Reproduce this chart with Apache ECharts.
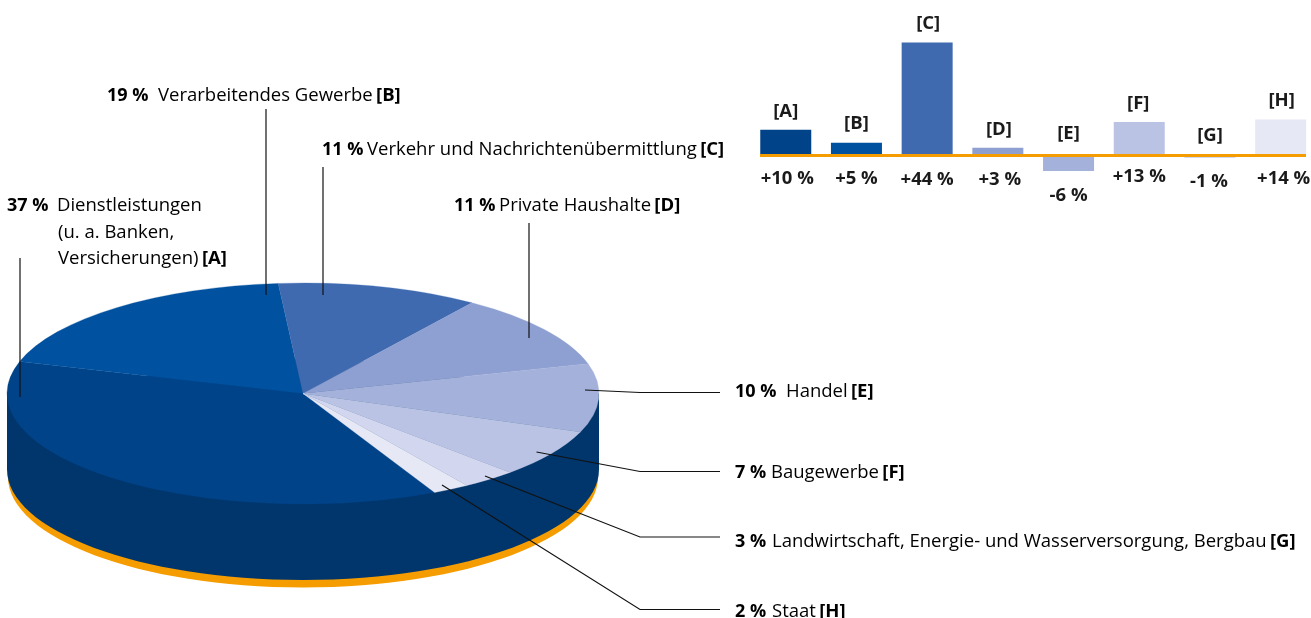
<!DOCTYPE html>
<html><head><meta charset="utf-8">
<style>html,body{margin:0;padding:0;background:#fff}#c{width:1311px;height:618px}</style>
<script src="https://cdn.jsdelivr.net/npm/echarts@6/dist/echarts.min.js"></script>
</head><body><div id="c"></div>
<script>
// ---- data ----
const sliceKeys = ['A','B','C','D','E','F','G','H'];
const shares = [37,19,11,11,10,7,3,2];
const sliceColors = ['#004389','#00519f','#3f6ab0','#8e9fd1','#a4b1da','#bac3e4','#d3d6ef','#e6e8f5'];
const sliceNames = [
  ['Dienstleistungen','(u. a. Banken,','Versicherungen)'],
  ['Verarbeitendes Gewerbe'],
  ['Verkehr und Nachrichtenübermittlung'],
  ['Private Haushalte'],
  ['Handel'],
  ['Baugewerbe'],
  ['Landwirtschaft, Energie- und Wasserversorgung, Bergbau'],
  ['Staat']
];
const changes = [10,5,44,3,-6,13,-1,14];
const changeLabels = ['+10 %','+5 %','+44 %','+3 %','-6 %','+13 %','-1 %','+14 %'];

// ---- layout / style ----
const FONT = 'Open Sans', FS = 18.5, FSB = 18.5, FSH = 18;
const CX=303, CY=393.5, RX=296, RY=110.5, DEPTH=76, ORANGE=7.5, START_DEG=63.6;
const WALL='#00366b', ORANGE_C='#f59c00', TEXT='#1a1a1a';
const leaders = [
  [[20,258],[20,397]],
  [[266,109],[266,295]],
  [[323,167],[323,295]],
  [[529,223],[529,338]],
  [[585,390],[640,392.5],[720,392.5]],
  [[536.5,452],[640,471.5],[720,471.5]],
  [[485,476],[640,537],[720,537]],
  [[442,485],[640,609.5],[720,609.5]]
];
const calloutPos = [[7,206,50],[107,96,51],[322,150,45],[454,206,45],[735,392,51],[735,473,36],[735,542,37],[735,612,37]];
const letterShift=[[0,0],[0,0],[1,0],[1,0],[0,-3],[-1,0],[0,-1],[1,0]];
const valueShift=[[1.5,0],[0,0],[0,1],[2,1],[0,1],[0,-2],[-1,0],[3,0]];

const graphics = [
  {type:'ellipse',z:1,silent:true,shape:{cx:CX,cy:CY+DEPTH+ORANGE,rx:RX-1,ry:RY},style:{fill:ORANGE_C}},
  {type:'rect',z:2,silent:true,shape:{x:CX-RX,y:CY,width:2*RX,height:DEPTH},style:{fill:WALL}},
  {type:'ellipse',z:2,silent:true,shape:{cx:CX,cy:CY+DEPTH,rx:RX,ry:RY},style:{fill:WALL}}
];
leaders.forEach(p=>graphics.push({type:'polyline',z:30,silent:true,shape:{points:p},style:{stroke:'#111',lineWidth:1.2,fill:null}}));
calloutPos.forEach((p,i)=>{
  const names=sliceNames[i], tag=' {t|['+sliceKeys[i]+']}';
  const r={h:{fontFamily:FONT,fontSize:FSH,fontWeight:'bold',color:TEXT,width:p[2]},
           t:{fontFamily:FONT,fontSize:FSB,fontWeight:'bold',color:TEXT},
           n:{fontFamily:FONT,fontSize:FS,color:TEXT}};
  if(names.length===1){
    graphics.push({type:'text',z:31,silent:true,x:p[0],y:p[1],style:{text:'{h|'+shares[i]+' %}{n|'+names[0]+'}'+tag,rich:r,align:'left',verticalAlign:'middle'}});
  } else {
    const x2=p[0]+p[2], gap=26.5;
    graphics.push({type:'text',z:31,silent:true,x:p[0],y:p[1],style:{text:'{h|'+shares[i]+' %}{n|'+names[0]+'}',rich:r,align:'left',verticalAlign:'middle'}});
    graphics.push({type:'text',z:31,silent:true,x:x2+1,y:p[1]+gap,style:{text:'{n|'+names[1]+'}',rich:r,align:'left',verticalAlign:'middle'}});
    graphics.push({type:'text',z:31,silent:true,x:x2+1,y:p[1]+2*gap,style:{text:'{n|'+names[2]+'}'+tag,rich:r,align:'left',verticalAlign:'middle'}});
  }
});

const total=shares.reduce((a,b)=>a+b,0);
const sliceStart=[];let acc=START_DEG;shares.forEach(s=>{sliceStart.push(acc);acc+=s/total*360;});

const chart=echarts.init(document.getElementById('c'),null,{renderer:'canvas'});
chart.setOption({
  animation:false,
  backgroundColor:'#fff',
  graphic:{elements:graphics},
  grid:{left:750.4,top:27,width:565.6,height:154.2,outerBoundsMode:'none',containLabel:false},
  xAxis:{type:'category',data:sliceKeys,axisLine:{show:false},axisTick:{show:false},axisLabel:{show:false},splitLine:{show:false}},
  yAxis:{type:'value',min:-10,max:50,interval:10,show:false,splitLine:{show:false}},
  series:[
    {type:'bar',z:5,barWidth:51,barGap:'-100%',
     data:changes.map((v,i)=>({value:v,itemStyle:{color:sliceColors[i]},label:{offset:letterShift[i]}})),
     label:{show:true,position:'top',distance:9,formatter:p=>'['+p.name+']',fontFamily:FONT,fontSize:FSB,fontWeight:'bold',color:TEXT}},
    {type:'bar',z:4,barWidth:51,barGap:'-100%',itemStyle:{color:'transparent'},silent:true,
     data:changes.map((v,i)=>({value:v,label:{offset:valueShift[i]}})),
     label:{show:true,position:'bottom',distance:14,formatter:p=>changeLabels[p.dataIndex],fontFamily:FONT,fontSize:FSB,fontWeight:'bold',color:TEXT}},
    {type:'custom',z:6,silent:true,data:[0],clip:false,
     renderItem:(ps,api)=>{const y=api.coord([0,0])[1];
       return {type:'rect',shape:{x:760,y:y-1.5,width:546,height:3},style:{fill:ORANGE_C}};}},
    {type:'custom',z:10,coordinateSystem:'none',silent:true,
     data:shares.map((s,i)=>[s,sliceStart[i]]),
     renderItem:(ps,api)=>{
       const s=api.value(0),a=api.value(1)*Math.PI/180;
       const col=sliceColors[ps.dataIndex];
       return {type:'sector',x:CX,y:CY,scaleY:RY/RX,
         shape:{cx:0,cy:0,r0:0,r:RX,startAngle:a,endAngle:a+s/total*2*Math.PI,clockwise:true},
         style:{fill:col,stroke:col,lineWidth:0.4}};
     }}
  ]
});
</script></body></html>
